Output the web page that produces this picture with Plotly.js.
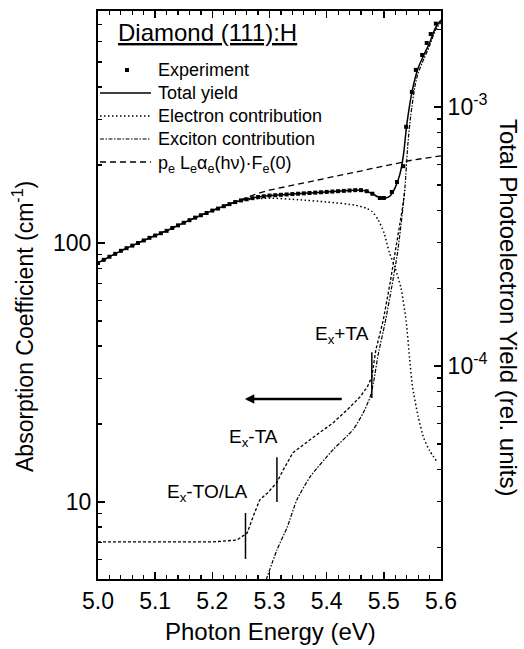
<!DOCTYPE html>
<html><head><meta charset="utf-8">
<script src="https://cdn.plot.ly/plotly-3.0.1.min.js"></script>
<style>html,body{margin:0;padding:0;background:#fff}#chart{width:524px;height:649px}</style>
</head><body><div id="chart"></div>
<script>
// Experiment (square markers)
const expE = [5.00,5.01,5.02,5.03,5.04,5.05,5.06,5.07,5.08,5.09,5.10,5.11,5.12,5.13,5.14,5.15,5.16,5.17,5.18,5.19,5.20,5.21,5.22,5.23,5.24,5.25,5.26,5.27,5.28,5.29,5.30,5.31,5.32,5.33,5.34,5.35,5.36,5.37,5.38,5.39,5.40,5.41,5.42,5.43,5.44,5.45,5.46,5.47,5.48,5.493,5.500,5.514,5.523,5.534,5.539,5.549,5.556,5.567,5.575,5.582,5.591];
const expY = [83.8,86.1,88.5,90.8,93.3,95.5,97.7,100,102.3,104.7,106.9,109.1,111.4,114.3,117,119.7,122.5,125.3,128,130.6,133.4,135.8,138.7,141.3,143.9,146,147.5,149,150.5,151.5,152.5,153,153.5,154,154.5,155,155.5,156,156.5,157,157.5,158,158.5,159,159.5,160,160,158.5,155,149.2,149.2,157.4,172,198,281,383,466,532,592,641,703];
// Total yield (solid)
const totE = [5.00,5.02,5.04,5.06,5.08,5.10,5.12,5.14,5.16,5.18,5.20,5.22,5.24,5.26,5.28,5.30,5.32,5.34,5.36,5.38,5.40,5.42,5.44,5.46,5.47,5.48,5.49,5.50,5.51,5.515,5.52,5.525,5.53,5.535,5.54,5.55,5.56,5.57,5.58,5.59,5.60];
const totY = [83.8,88.5,93.3,97.7,102.3,106.9,111.4,117,122.5,128,133.4,138.7,143.9,147.5,150.5,152.5,153.5,154.5,155.5,156.5,157.5,158.5,159.5,160,158.5,155,150.5,149,151.5,156,164,175,192,225,285,390,474,532,592,676,726];
// Electron contribution (dotted)
const eleE = [5.00,5.05,5.10,5.15,5.20,5.25,5.30,5.35,5.40,5.45,5.47,5.48,5.49,5.50,5.51,5.52,5.53,5.539,5.545,5.55,5.56,5.57,5.58,5.593];
const eleY = [83.8,95.5,106.9,119.7,133.4,146,149,147,144,140,136,132,123,110,91.5,80,67,50,36,28,21.4,17.6,15.8,14.3];
// Exciton contribution (dash-dot)
const excE = [5.294,5.313,5.331,5.348,5.371,5.411,5.446,5.464,5.476,5.482,5.490,5.502,5.514,5.524,5.532,5.537,5.542,5.547,5.555,5.56,5.57,5.58,5.59,5.60];
const excY = [5.0,6.53,8.0,10.2,12.5,15.9,19.0,22.1,25.4,29,37,49,68,92,128,165,240,310,410,453,514,576,661,712];
// Absorption coefficient curve (short dashes, not in legend)
const absE = [5.00,5.10,5.20,5.243,5.261,5.271,5.283,5.296,5.313,5.324,5.341,5.371,5.411,5.436,5.458,5.471,5.479,5.486,5.499,5.511,5.521,5.532,5.537];
const absY = [7.01,7.01,7.01,7.13,7.59,8.75,10.2,10.8,11.9,13.3,15.5,17.4,20.2,22.7,25.4,27.8,30.4,38.6,50.4,70.2,94,134,160];
// p_e L_e alpha_e(hv) F_e(0) (dashed)
const peE = [5.20,5.22,5.24,5.26,5.28,5.30,5.35,5.40,5.45,5.50,5.534,5.55,5.60];
const peY = [133.4,138.7,144,150,155.5,160,169,178,188,198,206,209,217];
// Phonon-replica markers
const markE = [5.258,5.313,5.479];
const markLo = [6.03,10.0,25.2];
const markHi = [9.07,14.9,37.9];
const markLabels = ['E<sub>x</sub>-TO/LA','E<sub>x</sub>-TA','E<sub>x</sub>+TA'];
const labelE = [5.117,5.226,5.376];
const labelY = [10.8,17.7,44.1];
// Arrow (points to left axis)
const arrowFromE = 5.429, arrowToE = 5.257, arrowY = 25.0;
// Axis ticks
const xTicks = [5.0,5.1,5.2,5.3,5.4,5.5,5.6];
const yTicks = [10,100];
const yMinor = [6,7,8,9,20,30,40,50,60,70,80,90,200,300,400,500,600,700];
const y2Ticks = [1e-4,1e-3];
const y2Text = ['10<sup>-4</sup>','10<sup>-3</sup>'];
const y2Minor = [2e-5,3e-5,4e-5,5e-5,6e-5,7e-5,8e-5,9e-5,2e-4,3e-4,4e-4,5e-4,6e-4,7e-4,8e-4,9e-4,2e-3];
// Legend
const legendTitle = '<u>Diamond (111):H</u>';
const legendNames = ['Experiment','Total yield','Electron contribution','Exciton contribution','p<sub>e</sub> L<sub>e</sub>α<sub>e</sub>(hν)·F<sub>e</sub>(0)'];

const STY = {
  tot: {color:'#000', width:1.5},
  ele: {color:'#000', width:1.5, dash:'1.5px,2.5px'},
  exc: {color:'#000', width:1.2, dash:'4px,1.5px,1.5px,1.5px'},
  pe:  {color:'#000', width:1.3, dash:'6px,4px'},
  abs: {color:'#000', width:1.3, dash:'3px,2px'}
};

const mx = [], my = [];
markE.forEach((e,i)=>{ mx.push(e,e,null); my.push(markLo[i],markHi[i],null); });

const F = 'Liberation Sans, Arial, sans-serif';
const traces = [
  {x: absE, y: absY, mode:'lines', line:STY.abs, showlegend:false, hoverinfo:'skip'},
  {x: peE, y: peY, name:legendNames[4], mode:'lines', line:STY.pe, showlegend:false, hoverinfo:'skip'},
  {x: mx, y: my, mode:'lines', line:{color:'#000', width:1.5}, showlegend:false, hoverinfo:'skip'},
  {x: expE, y: expY, name:legendNames[0], mode:'markers', marker:{symbol:'square', size:4, color:'#000'}, showlegend:false},
  {x: totE, y: totY, name:legendNames[1], mode:'lines', line:Object.assign({shape:'spline', smoothing:0.6}, STY.tot), showlegend:false},
  {x: eleE, y: eleY, name:legendNames[2], mode:'lines', line:Object.assign({shape:'spline', smoothing:0.6}, STY.ele), showlegend:false},
  {x: excE, y: excY, name:legendNames[3], mode:'lines', line:Object.assign({shape:'spline', smoothing:0.6}, STY.exc), showlegend:false},
  {x: [], y: [], yaxis:'y2', showlegend:false, hoverinfo:'skip'}
];

// pixel helpers for the plot box (l=98, t=11, w=343, h=568)
const PX = x => (x-98)/343, PY = y => (579-y)/568;

const annotations = [
  {xref:'paper', yref:'paper', x:PX(116), y:PY(33), xanchor:'left', yanchor:'middle', showarrow:false,
   text:legendTitle, font:{family:F, size:24, color:'#000'}},
  {xref:'paper', yref:'paper', x:PX(23), y:PY(327), xanchor:'center', yanchor:'middle', showarrow:false, textangle:-90,
   text:'Absorption Coefficient (cm<sup>-1</sup>)', font:{family:F, size:23, color:'#000'}},
  {xref:'paper', yref:'paper', x:PX(509), y:PY(308), xanchor:'center', yanchor:'middle', showarrow:false, textangle:90,
   text:'Total Photoelectron Yield (rel. units)', font:{family:F, size:24, color:'#000'}},
  {xref:'paper', yref:'paper', x:PX(270), y:PY(631), xanchor:'center', yanchor:'middle', showarrow:false,
   text:'Photon Energy (eV)', font:{family:F, size:24, color:'#000'}},
  {xref:'x', yref:'y', axref:'x', ayref:'y', x:arrowToE, y:Math.log10(arrowY), ax:arrowFromE, ay:Math.log10(arrowY),
   showarrow:true, arrowhead:2, arrowsize:0.75, arrowwidth:2.5, arrowcolor:'#000', text:''}
];
markLabels.forEach((t,i)=>annotations.push({xref:'x', yref:'y', x:labelE[i], y:Math.log10(labelY[i]),
  xanchor:'left', yanchor:'middle', showarrow:false, text:t, font:{family:F, size:19, color:'#000'}}));

// manual legend rows
const rowY = [70, 93, 116, 139, 162];
const shapes = [];
legendNames.forEach((nm,i)=>{
  annotations.push({xref:'paper', yref:'paper', x:PX(156), y:PY(rowY[i] + (i===4 ? 3 : 0)), xanchor:'left', yanchor:'middle',
    showarrow:false, text:nm, font:{family:F, size:18, color:'#000'}});
});
shapes.push({type:'rect', xref:'paper', yref:'paper', x0:PX(125), x1:PX(129), y0:PY(rowY[0]+2), y1:PY(rowY[0]-2),
  fillcolor:'#000', line:{width:0}});
[STY.tot, STY.ele, STY.exc, STY.pe].forEach((st,k)=>{
  const yy = PY(rowY[k+1]);
  shapes.push({type:'line', xref:'paper', yref:'paper', x0:PX(100), x1:PX(151), y0:yy, y1:yy,
    line:{color:st.color, width:st.width, dash:st.dash || 'solid'}});
});

const axisCommon = {ticks:'inside', ticklen:7, tickwidth:1.5, tickcolor:'#000', showline:true, linewidth:2, linecolor:'#000',
  showgrid:false, zeroline:false, tickfont:{family:F, size:23, color:'#000'}};
const layout = {
  width:524, height:649,
  margin:{l:98, r:83, t:11, b:70},
  paper_bgcolor:'#fff', plot_bgcolor:'#fff',
  font:{family:F, color:'#000'},
  showlegend:false,
  xaxis:Object.assign({range:[5.0,5.6], tickmode:'array', tickvals:xTicks, ticktext:xTicks.map(v=>v.toFixed(1)), mirror:'ticks',
    minor:{dtick:0.02, tick0:5.0, ticks:'inside', ticklen:4, tickwidth:1.2, tickcolor:'#000', showgrid:false}}, axisCommon),
  yaxis:Object.assign({type:'log', range:[0.7027,2.8958], tickmode:'array', tickvals:yTicks, ticktext:yTicks.map(String),
    minor:{tickmode:'array', tickvals:yMinor, ticks:'inside', ticklen:4, tickwidth:1.2, tickcolor:'#000', showgrid:false}}, axisCommon),
  yaxis2:Object.assign({type:'log', overlaying:'y', side:'right', anchor:'x', range:[-4.822,-2.629], tickmode:'array', tickvals:y2Ticks, ticktext:y2Text,
    minor:{tickmode:'array', tickvals:y2Minor, ticks:'inside', ticklen:4, tickwidth:1.2, tickcolor:'#000', showgrid:false}}, axisCommon),
  annotations: annotations,
  shapes: shapes
};
Plotly.newPlot('chart', traces, layout, {displayModeBar:false, staticPlot:true});
</script></body></html>
